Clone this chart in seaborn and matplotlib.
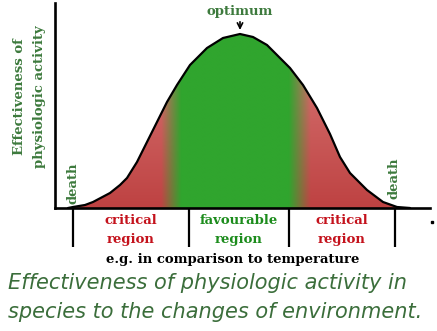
import numpy as np
import matplotlib
matplotlib.use("Agg")
import matplotlib.pyplot as plt
import seaborn as sns
import pandas as pd

# ---- data ----
temperature = [13, 18, 30, 38, 55, 65, 72, 82, 92, 102, 112, 122, 135, 152, 168, 185,
               198, 212, 225, 235, 248, 262, 275, 285, 295, 312, 328, 342, 355]
effectiveness = [0, 1, 3, 6, 15, 23, 30, 46, 66, 86, 106, 123, 143, 160, 170, 174,
                 171, 163, 150, 140, 123, 100, 74, 51, 35, 18, 6, 1, 0]
region_bounds = [18, 134, 234, 340]
region_labels = ["critical\nregion", "favourable\nregion", "critical\nregion"]
region_colors = ["#c4121c", "#1c8c1c", "#c4121c"]
optimum_x = 185
death_x = [18, 339]

W, H = 437, 331
sns.set_style("white")
plt.rcParams['font.family'] = ['DejaVu Serif']

fig = plt.figure(figsize=(W / 100, H / 100), dpi=100)
ax = fig.add_axes([55 / W, (H - 208) / H, 375 / W, 205 / H])
ax.set_xlim(0, 375)
ax.set_ylim(0, 205)

df = pd.DataFrame({"temperature": temperature, "effectiveness": effectiveness})

# gradient fill under the curve
poly = ax.fill_between(df["temperature"], df["effectiveness"], 0, facecolor="none", edgecolor="none")
nx, ny = 400, 200
xs = np.linspace(0, 375, nx)
ys = np.linspace(0, 180, ny)
green = np.array([48, 165, 46]) / 255
red_top = np.array([218, 124, 122]) / 255
red_bot = np.array([190, 66, 66]) / 255
wl = np.clip((xs - 106) / (126 - 106), 0, 1)
wr = np.clip((256 - xs) / (256 - 234), 0, 1)
wg = np.minimum(wl, wr)[None, :, None]
tv = (ys / 180)[:, None, None]
red = red_bot * (1 - tv) + red_top * tv
img = red * (1 - wg) + green * wg
im = ax.imshow(img, extent=[0, 375, 0, 180], origin="lower", aspect="auto", zorder=1)
im.set_clip_path(poly.get_paths()[0], ax.transData)

sns.lineplot(data=df, x="temperature", y="effectiveness", ax=ax, color="black",
             linewidth=1.6, zorder=3, sort=False)

ax.set_xlabel("")
ax.set_ylabel("")
ax.set_xticks([])
ax.set_yticks([])
for s in ["top", "right"]:
    ax.spines[s].set_visible(False)
for s in ["left", "bottom"]:
    ax.spines[s].set_color("black")
    ax.spines[s].set_linewidth(1.9)

# region boundaries below the axis
ax.vlines(region_bounds, -39, 0, colors="black", linewidth=1.6, clip_on=False)
ax.plot([377], [-14], marker="s", markersize=1.5, color="black", clip_on=False)

def ftxt(px, py, s, **kw):
    fig.text(px / W, 1 - py / H, s, **kw)

bold = dict(fontweight="bold", fontsize=9.5)
# region labels
mids = [(region_bounds[i] + region_bounds[i + 1]) / 2 for i in range(3)]
for m, lab, c in zip(mids, region_labels, region_colors):
    ax.text(m, -22, lab, ha="center", va="center", color=c, linespacing=1.55,
            clip_on=False, **bold)

ftxt(233, 260, "e.g. in comparison to temperature", ha="center", va="center",
     color="black", **bold)

# y label
ftxt(30, 97, "Effectiveness of\nphysiologic activity", rotation=90, ha="center",
     va="center", color="#3d7a3d", linespacing=1.7, **bold)

# death labels
for dx, dy in zip(death_x, [25, 30]):
    ax.text(dx, dy, "death", rotation=90, ha="center", va="center",
            color="#3d7a3d", **bold)

# optimum
ax.annotate("optimum", xy=(optimum_x, 178), xytext=(optimum_x, 196),
            ha="center", va="center", color="#3d7a3d", annotation_clip=False,
            arrowprops=dict(arrowstyle="->", color="black", lw=1.2,
                            shrinkA=6, shrinkB=0), **bold)

# handwritten-like title
ftxt(8, 283, "Effectiveness of physiologic activity in", ha="left", va="center",
     color="#3b6e3b", fontsize=15, family=["DejaVu Sans"], style="oblique")
ftxt(8, 312, "species to the changes of environment.", ha="left", va="center",
     color="#3b6e3b", fontsize=15, family=["DejaVu Sans"], style="oblique")

fig.savefig("out.png", dpi=100, facecolor="white")
